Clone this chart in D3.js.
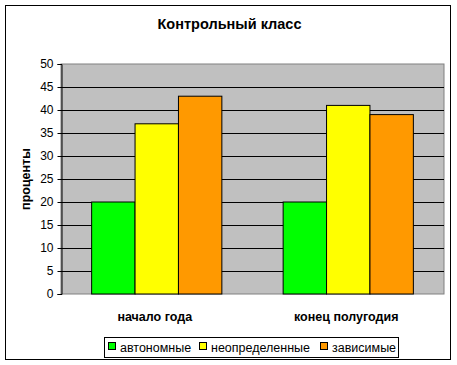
<!DOCTYPE html>
<html>
<head>
<meta charset="utf-8">
<script src="https://cdn.jsdelivr.net/npm/d3@7"></script>
<style>
  body { margin: 0; background: #fff; }
  text { font-family: Arial, "Liberation Sans", sans-serif; }
</style>
</head>
<body>
<div id="chart"></div>
<script>
// chart data
const categories = ["начало года", "конец полугодия"];
const seriesNames = ["автономные", "неопределенные", "зависимые"];
const seriesColors = ["#00ff00", "#ffff00", "#ff9900"];
const values = [
  [20, 37, 43],   // начало года
  [20, 41, 39]    // конец полугодия
];
const yTicks = [0, 5, 10, 15, 20, 25, 30, 35, 40, 45, 50];

const width = 457, height = 365;
const plot = { left: 61, right: 444, top: 64, bottom: 294 };

const svg = d3.select("#chart")
  .append("svg")
  .attr("width", width)
  .attr("height", height);

// outer frame
svg.append("rect")
  .attr("x", 5.5).attr("y", 5.5)
  .attr("width", 445).attr("height", 354)
  .attr("fill", "#fff")
  .attr("stroke", "#000")
  .attr("stroke-width", 1);

// title
svg.append("text")
  .attr("x", 229.5).attr("y", 29)
  .attr("text-anchor", "middle")
  .attr("font-size", "14.5px")
  .attr("font-weight", "bold")
  .text("Контрольный класс");

const y = d3.scaleLinear().domain([0, 50]).range([plot.bottom, plot.top]);
const x0 = d3.scaleBand()
  .domain(categories)
  .range([plot.left, plot.right])
  .paddingInner(0.32)
  .paddingOuter(0.16);
const x1 = d3.scaleBand()
  .domain(seriesNames)
  .range([0, x0.bandwidth()]);

// plot background
svg.append("rect")
  .attr("x", plot.left).attr("y", plot.top)
  .attr("width", plot.right - plot.left)
  .attr("height", plot.bottom - plot.top)
  .attr("fill", "#c0c0c0")
  .attr("stroke", "#808080");

// gridlines
svg.append("g")
  .selectAll("line")
  .data(yTicks.filter(d => d > 0 && d < 50))
  .enter()
  .append("line")
  .attr("x1", plot.left).attr("x2", plot.right)
  .attr("y1", d => Math.round(y(d)) + 0.5)
  .attr("y2", d => Math.round(y(d)) + 0.5)
  .attr("stroke", "#000");

// bars
const groups = svg.append("g")
  .selectAll("g")
  .data(categories)
  .enter()
  .append("g")
  .attr("transform", d => `translate(${x0(d)},0)`);

groups.selectAll("rect")
  .data((c, i) => values[i].map((v, j) => ({ name: seriesNames[j], value: v, color: seriesColors[j] })))
  .enter()
  .append("rect")
  .attr("x", d => x1(d.name))
  .attr("y", d => y(d.value))
  .attr("width", x1.bandwidth())
  .attr("height", d => y(0) - y(d.value))
  .attr("fill", d => d.color)
  .attr("stroke", "#000")
  .attr("stroke-width", 1);

// y axis
const yAxis = svg.append("g")
  .attr("transform", `translate(${plot.left + 0.5},0)`)
  .call(d3.axisLeft(y).tickValues(yTicks).tickSize(4).tickPadding(4));
yAxis.select(".domain").attr("stroke", "#000");
yAxis.selectAll("text").attr("font-size", "12px").attr("fill", "#000")
  .attr("font-family", "Arial, 'Liberation Sans', sans-serif");

// y label
svg.append("text")
  .attr("transform", "translate(29.5,179) rotate(-90)")
  .attr("text-anchor", "middle")
  .attr("font-size", "12.5px")
  .attr("font-weight", "bold")
  .text("проценты");

// category labels
svg.append("g")
  .selectAll("text")
  .data(categories)
  .enter()
  .append("text")
  .attr("x", d => x0(d) + x0.bandwidth() / 2 - 2)
  .attr("y", 321)
  .attr("text-anchor", "middle")
  .attr("font-size", "12.5px")
  .attr("font-weight", "bold")
  .text(d => d);

// legend
const legend = svg.append("g");
legend.append("rect")
  .attr("x", 104.5).attr("y", 337.5)
  .attr("width", 294).attr("height", 20)
  .attr("fill", "#fff")
  .attr("stroke", "#000");
const legendX = [108, 199, 320];
const items = legend.selectAll("g")
  .data(seriesNames)
  .enter()
  .append("g")
  .attr("transform", (d, i) => `translate(${legendX[i]},0)`);
items.append("rect")
  .attr("x", 0.5).attr("y", 342.5)
  .attr("width", 7).attr("height", 7)
  .attr("fill", (d, i) => seriesColors[i])
  .attr("stroke", "#000");
items.append("text")
  .attr("x", 12).attr("y", 352)
  .attr("font-size", "12.5px")
  .text(d => d);
</script>
</body>
</html>
